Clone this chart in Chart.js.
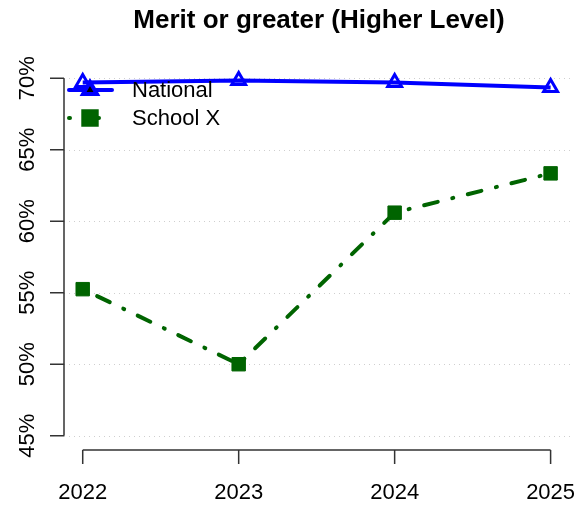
<!DOCTYPE html>
<html>
<head>
<meta charset="utf-8">
<script src="https://cdn.jsdelivr.net/npm/chart.js@4/dist/chart.umd.min.js"></script>
<style>
  html, body { margin: 0; padding: 0; background: #fff; }
  #wrap { width: 585px; height: 505px; }
</style>
</head>
<body>
<div id="wrap"><canvas id="meritChart" width="585" height="505"></canvas></div>
<script>
const years = [2022, 2023, 2024, 2025];
const nationalVals = [69.7, 69.85, 69.7, 69.35];
const schoolVals = [55.25, 50.0, 60.6, 63.35];
const yTicks = [45, 50, 55, 60, 65, 70];

const FONT = "'Liberation Sans', Arial, sans-serif";

// axes, grid, title and legend drawn R-style from the chart's scales
const baseAxes = {
  id: "baseAxes",
  beforeDatasetsDraw(chart) {
    const { ctx, chartArea, scales: { x, y } } = chart;
    ctx.save();
    ctx.strokeStyle = "#cfcfcf";
    ctx.lineWidth = 1;
    ctx.setLineDash([1, 4]);
    yTicks.forEach((t) => {
      const py = Math.round(y.getPixelForValue(t)) + 0.5;
      ctx.beginPath();
      ctx.moveTo(chartArea.left, py);
      ctx.lineTo(chartArea.right, py);
      ctx.stroke();
    });
    ctx.restore();
  },
  afterDraw(chart) {
    const { ctx, chartArea, scales: { x, y } } = chart;
    ctx.save();
    ctx.strokeStyle = "#333";
    ctx.lineWidth = 1.5;
    ctx.fillStyle = "#000";

    // y axis
    const ax = chartArea.left;
    const yTop = y.getPixelForValue(yTicks[yTicks.length - 1]);
    const yBot = y.getPixelForValue(yTicks[0]);
    ctx.beginPath();
    ctx.moveTo(ax, yTop);
    ctx.lineTo(ax, yBot);
    yTicks.forEach((t) => {
      const py = y.getPixelForValue(t);
      ctx.moveTo(ax, py);
      ctx.lineTo(ax - 14, py);
    });
    ctx.stroke();
    ctx.font = "22px " + FONT;
    ctx.textAlign = "center";
    ctx.textBaseline = "middle";
    yTicks.forEach((t) => {
      const py = y.getPixelForValue(t);
      ctx.save();
      ctx.translate(ax - 36, py);
      ctx.rotate(-Math.PI / 2);
      ctx.fillText(t + "%", 0, 0);
      ctx.restore();
    });

    // x axis
    const ay = chartArea.bottom;
    const xL = x.getPixelForValue(years[0]);
    const xR = x.getPixelForValue(years[years.length - 1]);
    ctx.beginPath();
    ctx.moveTo(xL, ay);
    ctx.lineTo(xR, ay);
    years.forEach((yr) => {
      const px = x.getPixelForValue(yr);
      ctx.moveTo(px, ay);
      ctx.lineTo(px, ay + 14);
    });
    ctx.stroke();
    ctx.textBaseline = "middle";
    years.forEach((yr) => {
      ctx.fillText(String(yr), x.getPixelForValue(yr), ay + 43);
    });

    // title
    ctx.font = "bold 26px " + FONT;
    ctx.fillText("Merit or greater (Higher Level)", (chartArea.left + chartArea.right) / 2, 21);

    // legend
    const ds = chart.data.datasets;
    const rows = [90, 118];
    ctx.font = "22px " + FONT;
    ctx.textAlign = "left";
    ds.forEach((d, i) => {
      const ly = rows[i];
      ctx.strokeStyle = d.borderColor;
      ctx.lineWidth = d.borderWidth;
      ctx.lineCap = "round";
      ctx.setLineDash(d.borderDash || []);
      ctx.beginPath();
      ctx.moveTo(69, ly);
      ctx.lineTo(112, ly);
      ctx.stroke();
      ctx.setLineDash([]);
      Chart.helpers.drawPoint(ctx, {
        pointStyle: d.pointStyle,
        radius: d.pointRadius,
        borderWidth: d.pointBorderWidth,
        rotation: 0
      }, 90, ly);
      ctx.fillStyle = d.pointBackgroundColor;
      ctx.strokeStyle = d.borderColor;
      ctx.lineWidth = d.pointBorderWidth;
      if (d.pointBackgroundColor !== "transparent") ctx.fill();
      ctx.stroke();
      ctx.fillStyle = "#000";
      ctx.fillText(d.label, 132, ly + 1);
    });
    ctx.restore();
  }
};

const ctx = document.getElementById("meritChart").getContext("2d");
const meritChart = new Chart(ctx, {
  type: "line",
  data: {
    datasets: [
      {
        label: "National",
        data: years.map((yr, i) => ({ x: yr, y: nationalVals[i] })),
        borderColor: "#0000ff",
        borderWidth: 4,
        pointStyle: "triangle",
        pointRadius: 8,
        pointBorderWidth: 3,
        pointBackgroundColor: "transparent",
        pointBorderColor: "#0000ff",
        fill: false,
      },
      {
        label: "School X",
        data: years.map((yr, i) => ({ x: yr, y: schoolVals[i] })),
        borderColor: "#006400",
        borderWidth: 4,
        borderDash: [1, 15, 14, 15],
        borderCapStyle: "round",
        pointStyle: "rect",
        pointRadius: 9.5,
        pointBorderWidth: 1,
        pointBackgroundColor: "#006400",
        pointBorderColor: "#006400",
        fill: false,
      },
    ],
  },
  options: {
    responsive: false,
    animation: false,
    layout: { padding: { left: 64, right: 4, top: 64, bottom: 55 } },
    plugins: { legend: { display: false }, tooltip: { enabled: false }, title: { display: false } },
    scales: {
      x: { type: "linear", min: 2021.88, max: 2025.15, display: false },
      y: { type: "linear", min: 44, max: 71, display: false },
    },
  },
  plugins: [baseAxes],
});
</script>
</body>
</html>
